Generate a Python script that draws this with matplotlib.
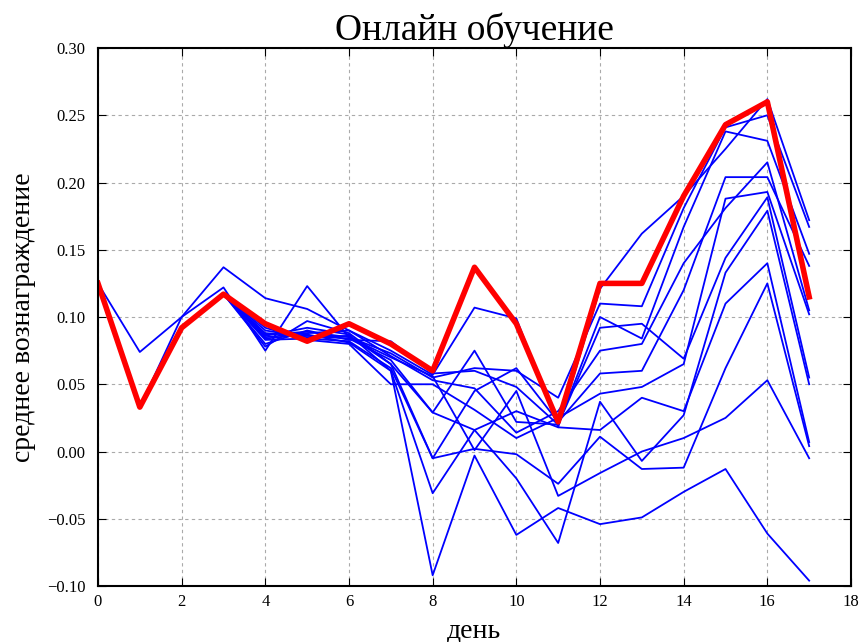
import matplotlib
matplotlib.use('Agg')
import matplotlib.pyplot as plt
from matplotlib.ticker import FuncFormatter, MultipleLocator

days = list(range(18))

# average reward of the online model (red)
online = [0.125, 0.033, 0.092, 0.117, 0.095, 0.082, 0.095, 0.080, 0.060, 0.137,
          0.095, 0.022, 0.125, 0.125, 0.190, 0.243, 0.260, 0.115]

# other runs (blue)
runs = [
    [0.125, 0.074, 0.100, 0.137, 0.114, 0.106, 0.090, 0.075, 0.057, 0.107, 0.099, 0.018, 0.121, 0.162, 0.190, 0.225, 0.262, 0.172],
    [0.125, 0.033, 0.100, 0.122, 0.075, 0.123, 0.085, 0.073, 0.055, 0.062, 0.060, 0.040, 0.110, 0.108, 0.181, 0.241, 0.250, 0.167],
    [0.125, 0.033, 0.092, 0.117, 0.078, 0.097, 0.088, 0.065, 0.029, 0.075, 0.022, 0.020, 0.100, 0.084, 0.167, 0.238, 0.231, 0.147],
    [0.125, 0.033, 0.092, 0.117, 0.080, 0.090, 0.083, 0.082, 0.058, 0.060, 0.048, 0.020, 0.092, 0.095, 0.069, 0.144, 0.189, 0.055],
    [0.125, 0.033, 0.092, 0.117, 0.085, 0.088, 0.090, 0.071, 0.053, 0.047, 0.014, 0.030, 0.075, 0.080, 0.140, 0.181, 0.215, 0.105],
    [0.125, 0.033, 0.092, 0.117, 0.090, 0.085, 0.086, 0.065, -0.005, 0.045, 0.062, 0.022, 0.058, 0.060, 0.120, 0.204, 0.204, 0.138],
    [0.125, 0.033, 0.092, 0.117, 0.092, 0.083, 0.080, 0.050, 0.050, 0.031, 0.010, 0.025, 0.043, 0.048, 0.065, 0.188, 0.193, 0.102],
    [0.125, 0.033, 0.092, 0.117, 0.088, 0.086, 0.084, 0.068, 0.029, 0.016, -0.020, -0.068, 0.037, -0.007, 0.027, 0.133, 0.179, 0.050],
    [0.125, 0.033, 0.092, 0.117, 0.086, 0.092, 0.087, 0.060, -0.031, 0.016, 0.030, 0.018, 0.016, 0.040, 0.030, 0.110, 0.140, 0.007],
    [0.125, 0.033, 0.092, 0.117, 0.083, 0.084, 0.082, 0.062, -0.005, 0.002, -0.002, -0.024, 0.011, -0.013, -0.012, 0.062, 0.125, 0.004],
    [0.125, 0.033, 0.092, 0.117, 0.087, 0.089, 0.085, 0.070, 0.056, 0.001, 0.045, -0.033, -0.016, 0.000, 0.010, 0.025, 0.053, -0.005],
    [0.125, 0.033, 0.092, 0.117, 0.084, 0.087, 0.081, 0.060, -0.092, -0.003, -0.062, -0.042, -0.054, -0.049, -0.030, -0.013, -0.061, -0.096],
]

plt.rcParams['font.family'] = ['Liberation Serif', 'DejaVu Serif']

fig = plt.figure(figsize=(8.61, 6.42), dpi=100)
ax = fig.add_axes([0.1138, 0.0872, 0.8746, 0.838])

for r in runs:
    ax.plot(days, r, color='#0000ff', lw=1.3)
ax.plot(days, online, color='#ff0000', lw=4)

ax.set_xlim(0, 18)
ax.set_ylim(-0.10, 0.30)
ax.xaxis.set_major_locator(MultipleLocator(2))
ax.yaxis.set_major_locator(MultipleLocator(0.05))
ax.yaxis.set_major_formatter(FuncFormatter(lambda v, p: ('%.2f' % v).replace('-', '\u2212')))
ax.tick_params(direction='in', top=True, right=True, length=6, labelsize=12)
ax.tick_params(axis='y', pad=9)
ax.tick_params(axis='x', pad=6)
ax.grid(True, color='#aaaaaa', linestyle=(0, (3, 3)), linewidth=0.8)
for s in ax.spines.values():
    s.set_linewidth(1.5)

ax.set_title('Онлайн обучение', fontsize=27, pad=6)
ax.set_xlabel('день', fontsize=20, labelpad=6)
ax.set_ylabel('среднее вознаграждение', fontsize=20, labelpad=8)

fig.savefig('out.png', dpi=100)
